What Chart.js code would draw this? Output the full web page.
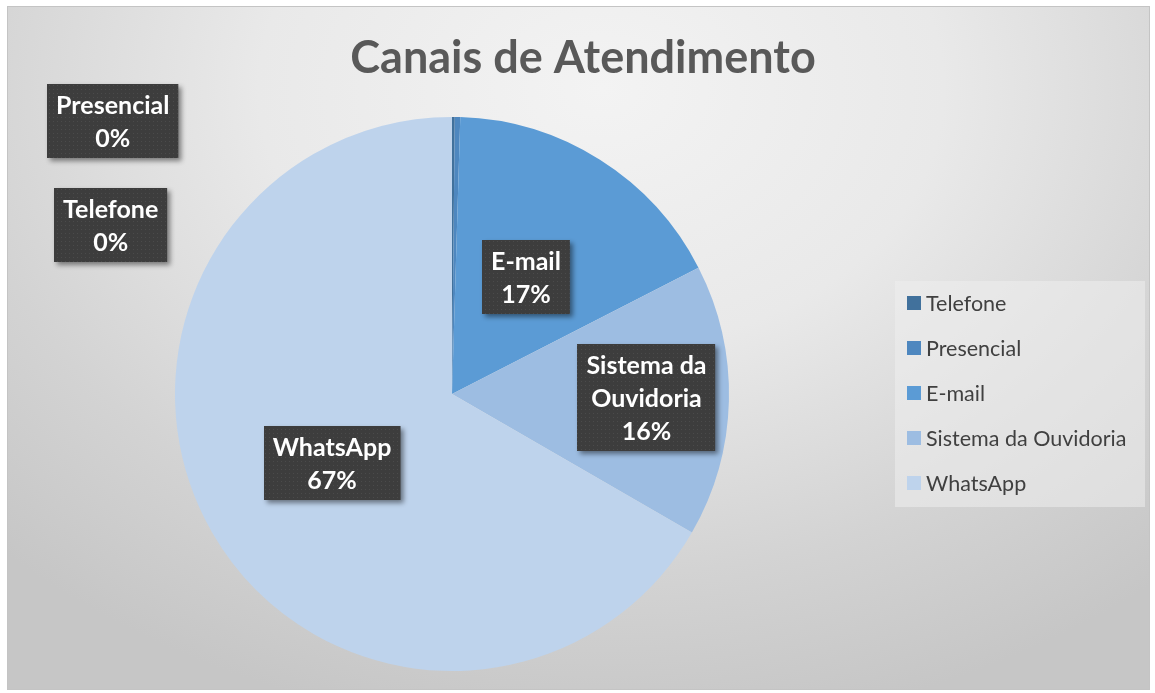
<!DOCTYPE html>
<html>
<head>
<meta charset="utf-8">
<script src="https://cdn.jsdelivr.net/npm/chart.js@4.4.0/dist/chart.umd.min.js"></script>
<style>
  html, body { margin: 0; padding: 0; background: #fff; }
  #frame {
    position: absolute; left: 7px; top: 6px; width: 1143px; height: 684px;
    box-sizing: border-box; border: 1px solid #c4c4c4;
    background: radial-gradient(ellipse 75% 95% at 52% 12%, #f3f3f3 0%, #e9e9e9 40%, #d3d3d3 75%, #c6c6c6 100%);
  }
  #chart { position: absolute; left: 0; top: 0; }
</style>
</head>
<body>
<div id="frame"></div>
<canvas id="chart" width="1155" height="693"></canvas>
<script>
// data
const categories = ["Telefone", "Presencial", "E-mail", "Sistema da Ouvidoria", "WhatsApp"];
const atendimentos = [1, 2, 107, 100, 420];
const sliceColors = ["#41719c", "#4e87bf", "#5b9bd5", "#9dbde2", "#bed3ec"];
const chartTitle = "Canais de Atendimento";

// where each data label sits relative to its slice (Excel moved a few by hand)
const labelShift = [[-342, -31], [-342, -135], [0, 0], [56, 0], [0, 0]];

const FONT = "Lato, 'Open Sans', sans-serif";

function dotPattern(ctx) {
  const c = document.createElement("canvas");
  c.width = 4; c.height = 4;
  const g = c.getContext("2d");
  g.fillStyle = "#3d3d3d";
  g.fillRect(0, 0, 4, 4);
  g.fillStyle = "#4b4b4b";
  g.fillRect(1, 1, 1, 1);
  return ctx.createPattern(c, "repeat");
}

function wrapWords(ctx, text, maxWidth) {
  const words = text.split(" ");
  const lines = [];
  let line = "";
  words.forEach((w) => {
    const test = line ? line + " " + w : w;
    if (line && ctx.measureText(test).width > maxWidth) {
      lines.push(line);
      line = w;
    } else {
      line = test;
    }
  });
  if (line) lines.push(line);
  return lines;
}

const labelBoxes = {
  id: "labelBoxes",
  afterDatasetsDraw(chart) {
    const ctx = chart.ctx;
    const meta = chart.getDatasetMeta(0);
    const values = chart.data.datasets[0].data;
    const total = values.reduce((a, b) => a + b, 0);
    const pattern = dotPattern(ctx);

    ctx.save();
    ctx.font = `bold 25px ${FONT}`;
    ctx.textAlign = "center";
    ctx.textBaseline = "middle";

    meta.data.forEach((arc, i) => {
      const pos = arc.tooltipPosition(true);
      const cx = pos.x + labelShift[i][0];
      const cy = pos.y + labelShift[i][1];
      const pct = Math.round(values[i] / total * 100) + "%";
      const lines = wrapWords(ctx, chart.data.labels[i], 140).concat([pct]);
      const lineH = 33;
      const w = Math.max(...lines.map((l) => ctx.measureText(l).width)) + 18;
      const h = lines.length * lineH + 8;
      const x0 = Math.round(cx - w / 2);
      const y0 = Math.round(cy - h / 2);

      ctx.save();
      ctx.shadowColor = "rgba(0,0,0,0.45)";
      ctx.shadowBlur = 5;
      ctx.shadowOffsetX = 3;
      ctx.shadowOffsetY = 3;
      ctx.fillStyle = pattern;
      ctx.fillRect(x0, y0, w, h);
      ctx.restore();

      ctx.fillStyle = "#ffffff";
      lines.forEach((l, k) => {
        ctx.fillText(l, cx, y0 + 4 + lineH * k + lineH / 2 + 1);
      });
    });
    ctx.restore();
  },
  afterDraw(chart) {
    const ctx = chart.ctx;
    ctx.save();

    // title
    ctx.font = `bold 45px ${FONT}`;
    ctx.fillStyle = "#595959";
    ctx.textAlign = "center";
    ctx.textBaseline = "middle";
    ctx.fillText(chartTitle, 583, 58);

    // legend
    ctx.fillStyle = "rgba(238,238,238,0.55)";
    ctx.fillRect(895, 281, 250, 226);
    ctx.font = `21.5px ${FONT}`;
    ctx.textAlign = "left";
    chart.data.labels.forEach((lab, i) => {
      const y = 303 + i * 45;
      ctx.fillStyle = sliceColors[i];
      ctx.fillRect(907, y - 7, 14, 14);
      ctx.fillStyle = "#404040";
      ctx.fillText(lab, 926, y + 1);
    });
    ctx.restore();
  },
};

new Chart(document.getElementById("chart"), {
  type: "pie",
  data: {
    labels: categories,
    datasets: [{
      data: atendimentos,
      backgroundColor: sliceColors,
      borderWidth: 0,
      hoverOffset: 0,
    }],
  },
  options: {
    responsive: false,
    animation: false,
    layout: { padding: { left: 175, right: 426, top: 117, bottom: 22 } },
    plugins: {
      legend: { display: false },
      title: { display: false },
      tooltip: { enabled: false },
    },
  },
  plugins: [labelBoxes],
});
</script>
</body>
</html>
